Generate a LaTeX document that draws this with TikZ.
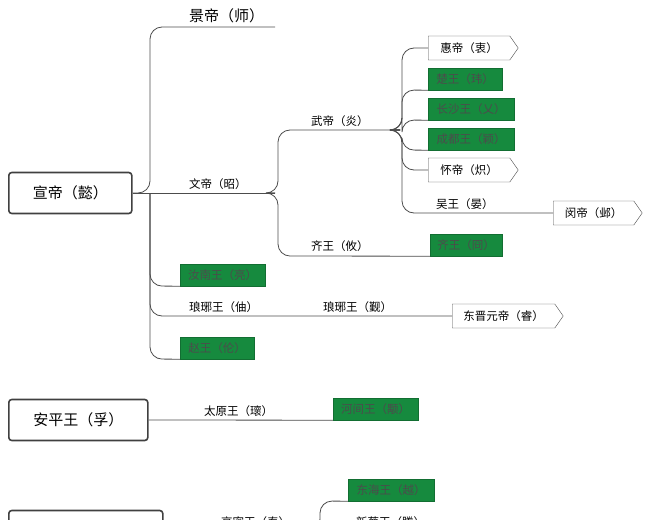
\documentclass[tikz,border=0pt]{standalone}
\usepackage{fontspec}
\setmainfont{Noto Sans CJK SC}
\usetikzlibrary{shapes.symbols}
\definecolor{gr}{HTML}{168A3E}
\begin{document}
\begin{tikzpicture}[x=1pt,y=-1pt,
  ln/.style={draw=black!70,line width=0.8pt,rounded corners=12pt},
  root/.style={draw=black!75,line width=1.6pt,rounded corners=3pt,fill=white,minimum height=41pt,font=\fontsize{15}{15}\selectfont,anchor=west},
  grn/.style={fill=gr,draw=gr!80!black,minimum height=22pt,inner xsep=6pt,font=\fontsize{11.5}{12}\selectfont,text=black!70,anchor=west},
  pent/.style={signal,signal to=east,signal pointer angle=110,draw=black!70,fill=white,minimum height=24pt,inner xsep=6pt,font=\fontsize{11.5}{12}\selectfont,anchor=west},
  lab/.style={font=\fontsize{11.5}{12}\selectfont,anchor=south west,inner sep=1pt}]
\useasboundingbox (0,0) rectangle (650,519);
\clip (0,0) rectangle (650,519);
% roots
\node[root,minimum width=123pt] (xuan) at (8,193) {宣帝（懿）};
\node[root,minimum width=139pt] (anping) at (8,420) {安平王（孚）};
\node[root,minimum width=154pt] (gaomi) at (8,531) {};
% Xuan branch
\coordinate (jingE) at (275,27);
\node[lab,font=\fontsize{15}{15}\selectfont] (jing) at (188,24) {景帝（师）};
\draw[ln] (xuan.east) -- (150,193) -- (150,27) -- (jingE);
\coordinate (wenE) at (275,193);
\node[lab] (wen) at (188,191) {文帝（昭）};
\draw[ln] (xuan.east) -- (wenE);
\node[grn,minimum width=85pt] (runan) at (180,275) {汝南王（亮）};
\draw[ln] (150,193) -- (150,286) -- (runan.south west);
\node[pent,minimum width=111pt] (dongjin) at (452,316) {东晋元帝（睿）};
\node[lab] (langya1) at (188,314) {琅琊王（伷）};
\node[lab] (langya2) at (322,314) {琅琊王（觐）};
\draw[ln] (150,193) -- (150,316) -- (dongjin.west);
\node[grn,minimum width=74pt] (zhao) at (180,348) {赵王（伦）};
\draw[ln] (150,193) -- (150,359) -- (zhao.south west);
% Wen branch
\coordinate (wuE) at (400,130);
\node[lab] (wu) at (310,128) {武帝（炎）};
\draw[ln] (wenE) -- (278,193) -- (278,130) -- (wuE);
\node[grn,minimum width=72pt] (qijiong) at (430,245) {齐王（冏）};
\node[lab] (qiyou) at (310,253) {齐王（攸）};
\draw[ln] (wenE) -- (278,193) -- (278,256) -- (qijiong.south west);
% Wu branch
\node[pent,minimum width=90pt] (hui) at (428,48) {惠帝（衷）};
\node[grn,minimum width=74pt] (chu) at (428,79) {楚王（玮）};
\node[grn,minimum width=86pt] (changsha) at (428,109) {长沙王（乂）};
\node[grn,minimum width=86pt] (chengdu) at (428,139) {成都王（颖）};
\node[pent,minimum width=90pt] (huai) at (428,170) {怀帝（炽）};
\node[pent,minimum width=89pt] (min) at (553,213) {闵帝（邺）};
\node[lab] (wuwang) at (435,211) {吴王（晏）};
\draw[ln] (wuE) -- (402,130) -- (402,48) -- (hui.west);
\draw[ln] (wuE) -- (402,130) -- (402,90) -- (chu.south west);
\draw[ln] (wuE) -- (402,130) -- (402,120) -- (changsha.south west);
\draw[ln] (wuE) -- (402,130) -- (402,150) -- (chengdu.south west);
\draw[ln] (wuE) -- (402,130) -- (402,170) -- (huai.west);
\draw[ln] (wuE) -- (402,130) -- (402,213) -- (min.west);
% Anping
\node[grn,minimum width=85pt] (hejian) at (333,409) {河间王（颙）};
\node[lab] (taiyuan) at (203,418) {太原王（瓌）};
\draw[ln] (anping.east) -- (hejian.south west);
% bottom
\node[grn,minimum width=86pt] (donghai) at (348,490) {东海王（越）};
\node[lab] (gaomiL) at (220,529) {高密王（泰）};
\node[lab] (xincai) at (355,529) {新蔡王（腾）};
\draw[ln] (gaomi.east) -- (320,531) -- (320,501) -- (donghai.south west);
\end{tikzpicture}
\end{document}
